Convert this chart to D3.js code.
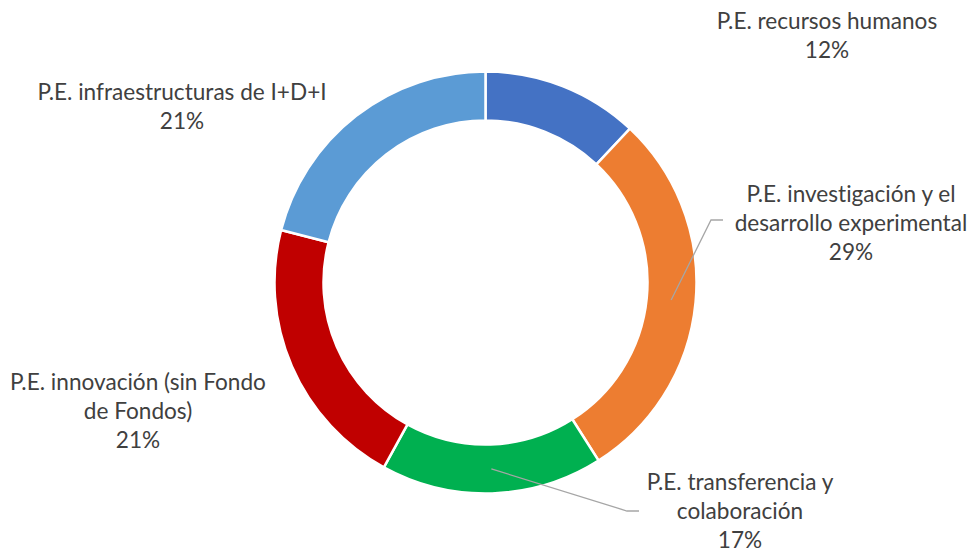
<!DOCTYPE html>
<html>
<head>
<meta charset="utf-8">
<script src="https://cdn.jsdelivr.net/npm/d3@7"></script>
<style>
html,body{margin:0;padding:0;background:#fff;}
svg{display:block;}
text{font-variant-ligatures:none;}
</style>
</head>
<body>
<svg id="chart" width="971" height="553"></svg>
<script>
const categories = [
  "P.E. recursos humanos",
  "P.E. investigación y el desarrollo experimental",
  "P.E. transferencia y colaboración",
  "P.E. innovación (sin Fondo de Fondos)",
  "P.E. infraestructuras de I+D+I"
];
const values = [12, 29, 17, 21, 21];
const colors = ["#4472C4", "#ED7D31", "#00B050", "#C00000", "#5B9BD5"];
const labelLines = [
  ["P.E. recursos humanos", "12%"],
  ["P.E. investigación y el", "desarrollo experimental", "29%"],
  ["P.E. transferencia y", "colaboración", "17%"],
  ["P.E. innovación (sin Fondo", "de Fondos)", "21%"],
  ["P.E. infraestructuras de I+D+I", "21%"]
];
// label layout (center x, first baseline y), and leader-line elbows (null = none)
const labelPos = [[827, 29], [851, 202], [740, 490], [138, 390], [182, 100]];
const leaders = [null, [[711, 220], [723, 220]], [[627, 511], [639, 511]], null, null];

const svg = d3.select("#chart");
const cx = 485.5, cy = 282.5, rOuter = 211, rInner = 162;
const g = svg.append("g").attr("transform", `translate(${cx},${cy})`);

const pie = d3.pie().sort(null).value(d => d)(values);
const arc = d3.arc().innerRadius(rInner).outerRadius(rOuter);

g.selectAll("path.slice").data(pie).join("path")
  .attr("class", "slice")
  .attr("d", arc)
  .attr("fill", (d, i) => colors[i])
  .attr("stroke", "#fff")
  .attr("stroke-width", 2.5);

// leader lines
pie.forEach((d, i) => {
  const lp = leaders[i];
  if (!lp) return;
  const c = arc.centroid(d);
  const pts = [[cx + c[0], cy + c[1]], ...lp];
  svg.append("path")
    .attr("d", d3.line()(pts))
    .attr("fill", "none")
    .attr("stroke", "#A6A6A6")
    .attr("stroke-width", 1.3);
});

const font = "Lato, 'Open Sans', sans-serif";
labelLines.forEach((lines, i) => {
  const t = svg.append("text")
    .attr("x", labelPos[i][0])
    .attr("y", labelPos[i][1])
    .attr("text-anchor", "middle")
    .attr("font-family", font)
    .attr("font-size", 22.6)
    .attr("fill", "#404040");
  lines.forEach((ln, k) => {
    t.append("tspan").attr("x", labelPos[i][0]).attr("dy", k === 0 ? 0 : 29).text(ln);
  });
});
</script>
</body>
</html>
